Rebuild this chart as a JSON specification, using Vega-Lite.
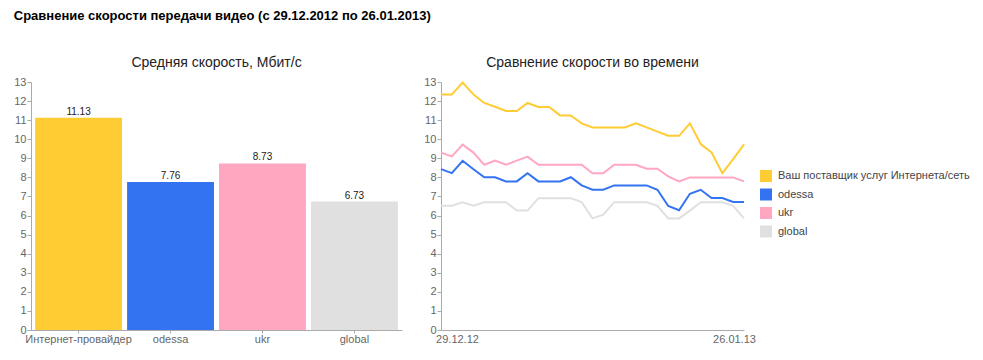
{
  "$schema": "https://vega.github.io/schema/vega-lite/v6.json",
  "background": "white",
  "padding": {"left": 13, "top": 10, "right": 5, "bottom": 5},
  "title": {"text": "Сравнение скорости передачи видео (с 29.12.2012 по 26.01.2013)", "anchor": "start", "font": "Liberation Sans", "fontSize": 13, "fontWeight": "bold", "color": "#000000", "offset": 33},
  "config": {
    "font": "Liberation Sans",
    "view": {"stroke": null},
    "axis": {"labelFont": "Liberation Sans", "labelFontSize": 11, "labelColor": "#666666", "domainColor": "#aaaaaa", "tickColor": "#aaaaaa", "grid": false}
  },
  "datasets": {
    "bars": [
      {"name": "Интернет-провайдер", "value": 11.13},
      {"name": "odessa", "value": 7.76},
      {"name": "ukr", "value": 8.73},
      {"name": "global", "value": 6.73}
    ],
    "series": [
      {"date": "2012-12-29", "series": "Ваш поставщик услуг Интернета/сеть", "speed": 12.34},
      {"date": "2012-12-30", "series": "Ваш поставщик услуг Интернета/сеть", "speed": 12.34},
      {"date": "2012-12-31", "series": "Ваш поставщик услуг Интернета/сеть", "speed": 12.97},
      {"date": "2013-01-01", "series": "Ваш поставщик услуг Интернета/сеть", "speed": 12.34},
      {"date": "2013-01-02", "series": "Ваш поставщик услуг Интернета/сеть", "speed": 11.9},
      {"date": "2013-01-03", "series": "Ваш поставщик услуг Интернета/сеть", "speed": 11.7},
      {"date": "2013-01-04", "series": "Ваш поставщик услуг Интернета/сеть", "speed": 11.48},
      {"date": "2013-01-05", "series": "Ваш поставщик услуг Интернета/сеть", "speed": 11.48},
      {"date": "2013-01-06", "series": "Ваш поставщик услуг Интернета/сеть", "speed": 11.9},
      {"date": "2013-01-07", "series": "Ваш поставщик услуг Интернета/сеть", "speed": 11.69},
      {"date": "2013-01-08", "series": "Ваш поставщик услуг Интернета/сеть", "speed": 11.69},
      {"date": "2013-01-09", "series": "Ваш поставщик услуг Интернета/сеть", "speed": 11.25},
      {"date": "2013-01-10", "series": "Ваш поставщик услуг Интернета/сеть", "speed": 11.25},
      {"date": "2013-01-11", "series": "Ваш поставщик услуг Интернета/сеть", "speed": 10.83},
      {"date": "2013-01-12", "series": "Ваш поставщик услуг Интернета/сеть", "speed": 10.62},
      {"date": "2013-01-13", "series": "Ваш поставщик услуг Интернета/сеть", "speed": 10.62},
      {"date": "2013-01-14", "series": "Ваш поставщик услуг Интернета/сеть", "speed": 10.62},
      {"date": "2013-01-15", "series": "Ваш поставщик услуг Интернета/сеть", "speed": 10.62},
      {"date": "2013-01-16", "series": "Ваш поставщик услуг Интернета/сеть", "speed": 10.83},
      {"date": "2013-01-17", "series": "Ваш поставщик услуг Интернета/сеть", "speed": 10.62},
      {"date": "2013-01-18", "series": "Ваш поставщик услуг Интернета/сеть", "speed": 10.4},
      {"date": "2013-01-19", "series": "Ваш поставщик услуг Интернета/сеть", "speed": 10.18},
      {"date": "2013-01-20", "series": "Ваш поставщик услуг Интернета/сеть", "speed": 10.18},
      {"date": "2013-01-21", "series": "Ваш поставщик услуг Интернета/сеть", "speed": 10.83},
      {"date": "2013-01-22", "series": "Ваш поставщик услуг Интернета/сеть", "speed": 9.75},
      {"date": "2013-01-23", "series": "Ваш поставщик услуг Интернета/сеть", "speed": 9.31},
      {"date": "2013-01-24", "series": "Ваш поставщик услуг Интернета/сеть", "speed": 8.22},
      {"date": "2013-01-25", "series": "Ваш поставщик услуг Интернета/сеть", "speed": 8.96},
      {"date": "2013-01-26", "series": "Ваш поставщик услуг Интернета/сеть", "speed": 9.73},
      {"date": "2012-12-29", "series": "odessa", "speed": 8.43},
      {"date": "2012-12-30", "series": "odessa", "speed": 8.22},
      {"date": "2012-12-31", "series": "odessa", "speed": 8.87},
      {"date": "2013-01-01", "series": "odessa", "speed": 8.43},
      {"date": "2013-01-02", "series": "odessa", "speed": 8.01},
      {"date": "2013-01-03", "series": "odessa", "speed": 8.01},
      {"date": "2013-01-04", "series": "odessa", "speed": 7.79},
      {"date": "2013-01-05", "series": "odessa", "speed": 7.79},
      {"date": "2013-01-06", "series": "odessa", "speed": 8.22},
      {"date": "2013-01-07", "series": "odessa", "speed": 7.79},
      {"date": "2013-01-08", "series": "odessa", "speed": 7.79},
      {"date": "2013-01-09", "series": "odessa", "speed": 7.79},
      {"date": "2013-01-10", "series": "odessa", "speed": 8.01},
      {"date": "2013-01-11", "series": "odessa", "speed": 7.58},
      {"date": "2013-01-12", "series": "odessa", "speed": 7.35},
      {"date": "2013-01-13", "series": "odessa", "speed": 7.35},
      {"date": "2013-01-14", "series": "odessa", "speed": 7.58},
      {"date": "2013-01-15", "series": "odessa", "speed": 7.58},
      {"date": "2013-01-16", "series": "odessa", "speed": 7.58},
      {"date": "2013-01-17", "series": "odessa", "speed": 7.58},
      {"date": "2013-01-18", "series": "odessa", "speed": 7.35},
      {"date": "2013-01-19", "series": "odessa", "speed": 6.5},
      {"date": "2013-01-20", "series": "odessa", "speed": 6.28},
      {"date": "2013-01-21", "series": "odessa", "speed": 7.14},
      {"date": "2013-01-22", "series": "odessa", "speed": 7.35},
      {"date": "2013-01-23", "series": "odessa", "speed": 6.92},
      {"date": "2013-01-24", "series": "odessa", "speed": 6.92},
      {"date": "2013-01-25", "series": "odessa", "speed": 6.71},
      {"date": "2013-01-26", "series": "odessa", "speed": 6.71},
      {"date": "2012-12-29", "series": "ukr", "speed": 9.3},
      {"date": "2012-12-30", "series": "ukr", "speed": 9.1},
      {"date": "2012-12-31", "series": "ukr", "speed": 9.72},
      {"date": "2013-01-01", "series": "ukr", "speed": 9.3},
      {"date": "2013-01-02", "series": "ukr", "speed": 8.66},
      {"date": "2013-01-03", "series": "ukr", "speed": 8.88},
      {"date": "2013-01-04", "series": "ukr", "speed": 8.66},
      {"date": "2013-01-05", "series": "ukr", "speed": 8.88},
      {"date": "2013-01-06", "series": "ukr", "speed": 9.09},
      {"date": "2013-01-07", "series": "ukr", "speed": 8.66},
      {"date": "2013-01-08", "series": "ukr", "speed": 8.66},
      {"date": "2013-01-09", "series": "ukr", "speed": 8.66},
      {"date": "2013-01-10", "series": "ukr", "speed": 8.66},
      {"date": "2013-01-11", "series": "ukr", "speed": 8.66},
      {"date": "2013-01-12", "series": "ukr", "speed": 8.22},
      {"date": "2013-01-13", "series": "ukr", "speed": 8.22},
      {"date": "2013-01-14", "series": "ukr", "speed": 8.66},
      {"date": "2013-01-15", "series": "ukr", "speed": 8.66},
      {"date": "2013-01-16", "series": "ukr", "speed": 8.66},
      {"date": "2013-01-17", "series": "ukr", "speed": 8.45},
      {"date": "2013-01-18", "series": "ukr", "speed": 8.45},
      {"date": "2013-01-19", "series": "ukr", "speed": 8.05},
      {"date": "2013-01-20", "series": "ukr", "speed": 7.79},
      {"date": "2013-01-21", "series": "ukr", "speed": 8.0},
      {"date": "2013-01-22", "series": "ukr", "speed": 8.0},
      {"date": "2013-01-23", "series": "ukr", "speed": 8.0},
      {"date": "2013-01-24", "series": "ukr", "speed": 8.0},
      {"date": "2013-01-25", "series": "ukr", "speed": 8.0},
      {"date": "2013-01-26", "series": "ukr", "speed": 7.79},
      {"date": "2012-12-29", "series": "global", "speed": 6.51},
      {"date": "2012-12-30", "series": "global", "speed": 6.51},
      {"date": "2012-12-31", "series": "global", "speed": 6.7},
      {"date": "2013-01-01", "series": "global", "speed": 6.51},
      {"date": "2013-01-02", "series": "global", "speed": 6.7},
      {"date": "2013-01-03", "series": "global", "speed": 6.7},
      {"date": "2013-01-04", "series": "global", "speed": 6.7},
      {"date": "2013-01-05", "series": "global", "speed": 6.26},
      {"date": "2013-01-06", "series": "global", "speed": 6.26},
      {"date": "2013-01-07", "series": "global", "speed": 6.91},
      {"date": "2013-01-08", "series": "global", "speed": 6.91},
      {"date": "2013-01-09", "series": "global", "speed": 6.91},
      {"date": "2013-01-10", "series": "global", "speed": 6.91},
      {"date": "2013-01-11", "series": "global", "speed": 6.7},
      {"date": "2013-01-12", "series": "global", "speed": 5.85},
      {"date": "2013-01-13", "series": "global", "speed": 6.05},
      {"date": "2013-01-14", "series": "global", "speed": 6.7},
      {"date": "2013-01-15", "series": "global", "speed": 6.7},
      {"date": "2013-01-16", "series": "global", "speed": 6.7},
      {"date": "2013-01-17", "series": "global", "speed": 6.7},
      {"date": "2013-01-18", "series": "global", "speed": 6.51},
      {"date": "2013-01-19", "series": "global", "speed": 5.85},
      {"date": "2013-01-20", "series": "global", "speed": 5.85},
      {"date": "2013-01-21", "series": "global", "speed": 6.26},
      {"date": "2013-01-22", "series": "global", "speed": 6.7},
      {"date": "2013-01-23", "series": "global", "speed": 6.7},
      {"date": "2013-01-24", "series": "global", "speed": 6.7},
      {"date": "2013-01-25", "series": "global", "speed": 6.51},
      {"date": "2013-01-26", "series": "global", "speed": 5.85}
    ]
  },
  "spacing": 21,
  "resolve": {"scale": {"color": "independent"}, "legend": {"color": "independent"}},
  "hconcat": [
    {
      "name": "bc",
      "width": 371,
      "height": 248,
      "title": {"text": "Средняя скорость, Мбит/с", "fontSize": 14, "fontWeight": "normal", "color": "#222222", "offset": 6, "frame": "group"},
      "data": {"name": "bars"},
      "encoding": {
        "x": {"field": "name", "type": "nominal", "sort": null, "title": null, "scale": {"paddingInner": 0.055, "paddingOuter": 0.045}, "axis": {"labelAngle": 0, "tickSize": 3, "labelPadding": 0}},
        "y": {"field": "value", "type": "quantitative", "title": null, "scale": {"domain": [0, 13], "nice": false}, "axis": {"values": [0, 1, 2, 3, 4, 5, 6, 7, 8, 9, 10, 11, 12, 13], "tickSize": 4, "labelPadding": 1}}
      },
      "layer": [
        {
          "mark": {"type": "bar"},
          "encoding": {
            "color": {"field": "name", "type": "nominal", "scale": {"domain": ["Интернет-провайдер", "odessa", "ukr", "global"], "range": ["#ffcc33", "#3373f2", "#ffa6c1", "#e0e0e0"]}, "legend": null}
          }
        },
        {
          "mark": {"type": "text", "baseline": "bottom", "dy": -1, "fontSize": 10, "color": "#222222"},
          "encoding": {"text": {"field": "value", "type": "quantitative", "format": ".2f"}}
        }
      ]
    },
    {
      "name": "lc",
      "width": 303,
      "height": 248,
      "title": {"text": "Сравнение скорости во времени", "fontSize": 14, "fontWeight": "normal", "color": "#222222", "offset": 6, "frame": "group"},
      "data": {"name": "series"},
      "mark": {"type": "line", "strokeWidth": 2},
      "encoding": {
        "x": {"field": "date", "type": "temporal", "title": null, "scale": {"type": "utc", "nice": false},
          "axis": {"values": [{"year": 2012, "month": 12, "date": 29, "utc": true}, {"year": 2013, "month": 1, "date": 26, "utc": true}], "labelExpr": "utcFormat(datum.value, '%d.%m.%y')", "ticks": false, "labelPadding": 3, "labelFlush": false,
            "labelOffset": {"condition": {"test": "datum.value < 1357000000000", "value": 16}, "value": -10}}},
        "y": {"field": "speed", "type": "quantitative", "title": null, "scale": {"domain": [0, 13], "nice": false}, "axis": {"values": [0, 1, 2, 3, 4, 5, 6, 7, 8, 9, 10, 11, 12, 13], "tickSize": 4, "labelPadding": 1}},
        "color": {"field": "series", "type": "nominal", "sort": null,
          "scale": {"domain": ["Ваш поставщик услуг Интернета/сеть", "odessa", "ukr", "global"], "range": ["#ffcc33", "#3373f2", "#ffa6c1", "#e0e0e0"]},
          "legend": {"orient": "none", "legendX": 319, "legendY": 88, "title": null, "symbolType": "square", "symbolSize": 144, "symbolStrokeWidth": 0, "labelFontSize": 11, "labelColor": "#444444", "labelFont": "Liberation Sans", "labelLimit": 400, "rowPadding": 6.5, "padding": 0, "labelOffset": 6,
            "encode": {"symbols": {"update": {"fill": {"scale": "lc_color", "field": "value"}, "fillOpacity": {"value": 1}, "strokeWidth": {"value": 0}}}}}}
      }
    }
  ]
}
